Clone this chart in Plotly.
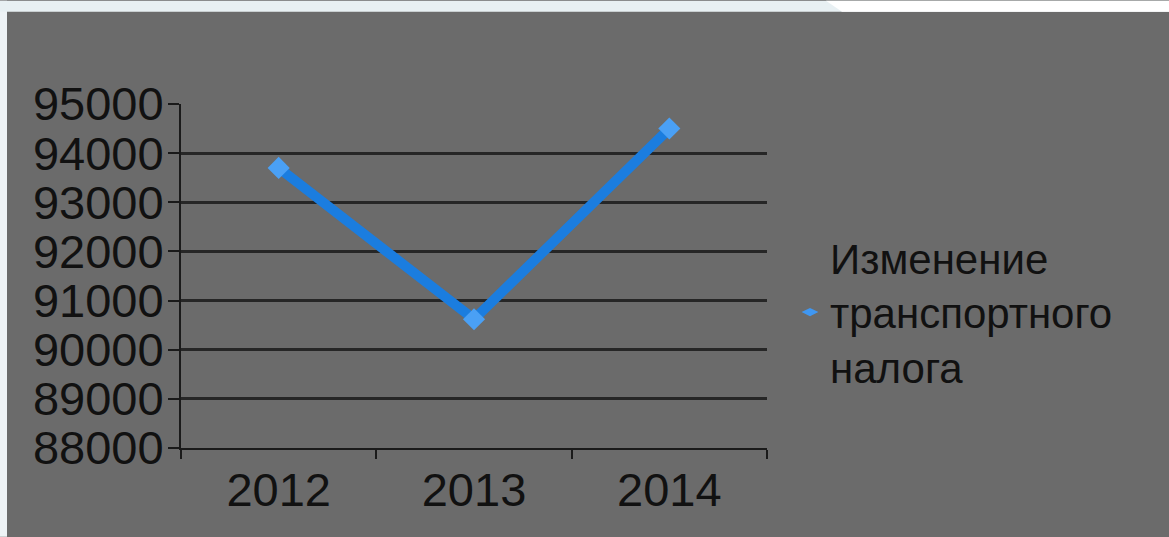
import plotly.graph_objects as go

years = ["2012", "2013", "2014"]
values = [93700, 90620, 94500]
series_name = "Изменение<br>транспортного<br>налога"
y_ticks = [88000, 89000, 90000, 91000, 92000, 93000, 94000, 95000]

W, H = 1169, 537
L, R, T, B = 181, 767, 103.5, 448

def px_x(px):
    return (px - L) / (R - L)

def px_y(py):
    return (B - py) / (B - T)

fig = go.Figure()
fig.add_trace(go.Scatter(
    x=years, y=values, mode="lines+markers",
    line=dict(color="#1b7ddf", width=10),
    marker=dict(symbol="diamond", size=17, color="#4aa0f5",
                line=dict(width=0)),
    showlegend=False, cliponaxis=False,
))
fig.add_trace(go.Scatter(
    x=[None], y=[None], mode="markers", name=series_name,
    marker=dict(symbol="diamond-wide", size=14, color="#3f97f2"),
    showlegend=True,
))

shapes = [
    dict(type="rect", xref="paper", yref="paper",
         x0=px_x(0), x1=px_x(7), y0=px_y(H), y1=px_y(0),
         fillcolor="#eef3f6", line=dict(width=0), layer="above"),
    dict(type="rect", xref="paper", yref="paper",
         x0=px_x(0), x1=px_x(W), y0=px_y(11), y1=px_y(0),
         fillcolor="#e8f0f3", line=dict(width=0), layer="above"),
    dict(type="path", xref="paper", yref="paper",
         path=f"M {px_x(826)},{px_y(0)} L {px_x(W)},{px_y(0)} L {px_x(W)},{px_y(11)} L {px_x(842)},{px_y(11)} Z",
         fillcolor="#ffffff", line=dict(width=0), layer="above"),
]

font_family = "Liberation Sans, Arial, sans-serif"
fig.update_layout(
    width=W, height=H,
    margin=dict(l=L, r=W - R, t=T, b=H - B, pad=0),
    paper_bgcolor="#6b6b6b", plot_bgcolor="#6b6b6b",
    font=dict(family=font_family, color="#111111", size=44),
    shapes=shapes,
    xaxis=dict(
        type="category", range=[-0.5, 2.5], tickson="boundaries",
        ticks="outside", ticklen=9, tickwidth=2, tickcolor="#1a1a1a",
        showline=True, linecolor="#1a1a1a", linewidth=2,
        showgrid=False, zeroline=False,
        tickfont=dict(size=47, color="#111111"),
    ),
    yaxis=dict(
        range=[88000, 95000], tickvals=y_ticks,
        ticktext=[str(v) for v in y_ticks],
        ticks="outside", ticklen=11, tickwidth=2, tickcolor="#1a1a1a",
        showline=True, linecolor="#1a1a1a", linewidth=2,
        showgrid=True, gridcolor="#262626", gridwidth=2.5,
        zeroline=False, ticklabelstandoff=-5,
        tickfont=dict(size=47, color="#111111"),
    ),
    legend=dict(
        x=px_x(790), y=px_y(312), xanchor="left", yanchor="middle",
        bgcolor="rgba(0,0,0,0)", font=dict(size=42, color="#111111"),
        itemsizing="constant", valign="middle", itemwidth=30,
    ),
)

fig.write_html(
    "out.html",
    config={"displayModeBar": False},
    post_script="document.body.style.margin='0';document.body.style.overflow='hidden';",
)
